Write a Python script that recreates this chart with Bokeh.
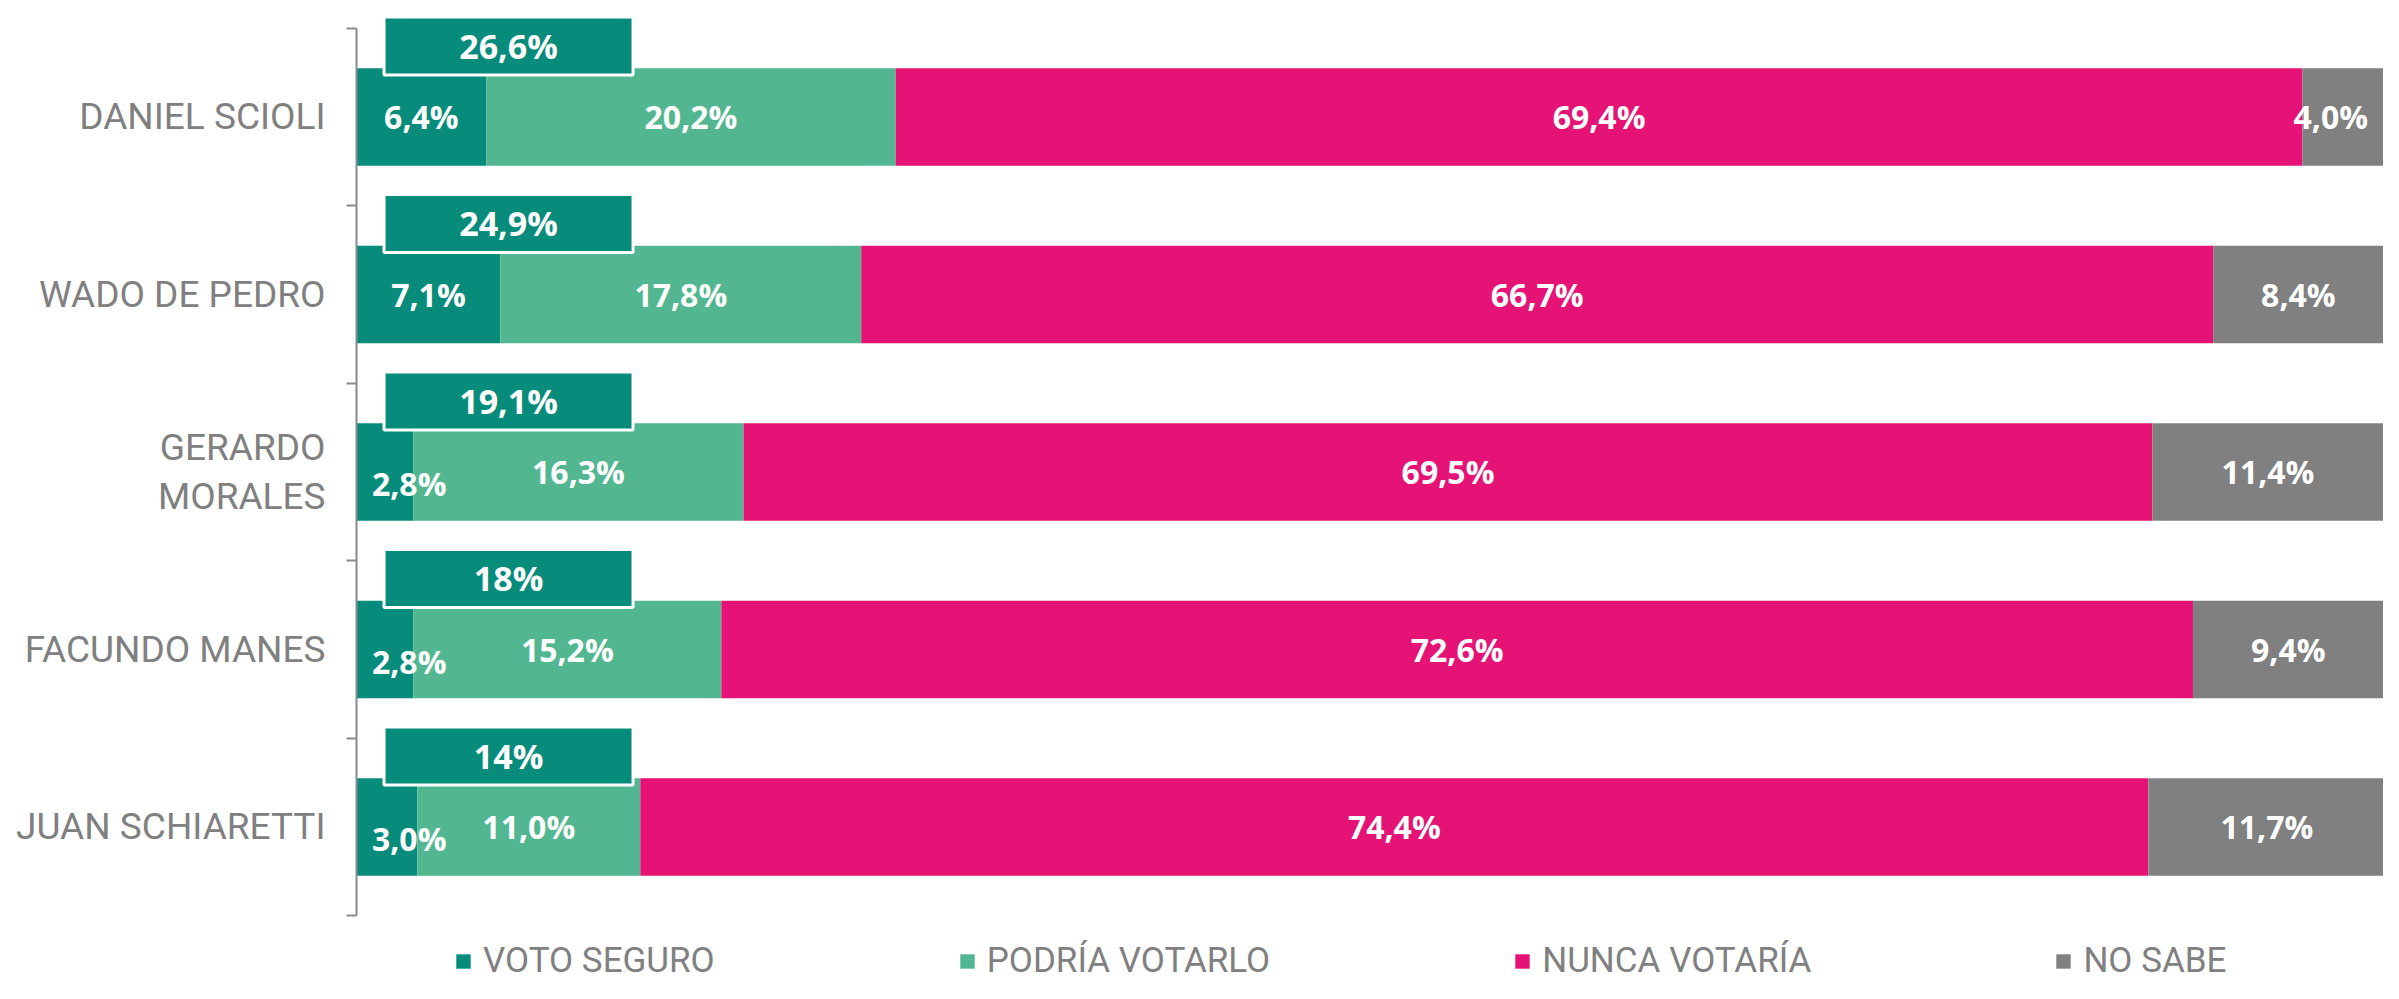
from bokeh.plotting import figure
from bokeh.models import Range1d, FixedTicker, Legend, LegendItem, ColumnDataSource
from bokeh.core.properties import value
from bokeh.embed import file_html
from bokeh.resources import INLINE

# ---------------- data ----------------
candidates = ["DANIEL SCIOLI", "WADO DE PEDRO", "GERARDO\nMORALES", "FACUNDO MANES", "JUAN SCHIARETTI"]
series_names = ["VOTO SEGURO", "PODRÍA VOTARLO", "NUNCA VOTARÍA", "NO SABE"]
voto_seguro = [6.4, 7.1, 2.8, 2.8, 3.0]
podria_votarlo = [20.2, 17.8, 16.3, 15.2, 11.0]
nunca_votaria = [69.4, 66.7, 69.5, 72.6, 74.4]
no_sabe = [4.0, 8.4, 11.4, 9.4, 11.7]
total_labels = ["26,6%", "24,9%", "19,1%", "18%", "14%"]

# ---------------- style ----------------
colors = ["#078C7C", "#52B790", "#E51375", "#808080"]
LABEL_GRAY = "#808080"
AXIS_GRAY = "#8a8a8a"
BAR_H = 0.55
BOX_X = 7.5
BOX_DY = 0.40


def fmt(v):
    return f"{v:.1f}".replace(".", ",") + "%"


n = len(candidates)
ys = [n - i - 0.5 for i in range(n)]

p = figure(width=2383, height=983, output_backend="svg", toolbar_location=None,
           x_range=Range1d(0, 100), y_range=Range1d(-0.382, 5.1),
           x_axis_location=None,
           min_border_left=356, min_border_right=0, min_border_top=10, min_border_bottom=0)
p.outline_line_color = None
p.grid.visible = False
p.background_fill_color = "white"

series = [voto_seguro, podria_votarlo, nunca_votaria, no_sabe]
left = [0.0] * n
renderers = []
lx, ly, lt, ldy = [], [], [], []
for k, vals in enumerate(series):
    right = [l + v for l, v in zip(left, vals)]
    r = p.hbar(y=ys, left=left, right=right, height=BAR_H,
               fill_color=colors[k], line_color=None)
    renderers.append(r)
    for i, v in enumerate(vals):
        c = (left[i] + right[i]) / 2
        c = min(max(c, 2.6), 97.4)
        lx.append(c)
        ly.append(ys[i])
        lt.append(fmt(v))
        ldy.append(12 if (k == 0 and v < 5) else 0)
    left = right

lab_src = ColumnDataSource(dict(x=lx, y=ly, t=lt, dy=ldy))
p.text(x="x", y="y", text="t", y_offset="dy", source=lab_src,
       text_align="center", text_baseline="middle", text_color="white",
       text_font=value("Open Sans"), text_font_style="bold", text_font_size="32px")

# total boxes
box_y = [y + BOX_DY for y in ys]
p.rect(x=[BOX_X] * n, y=box_y, width=249, height=58,
       width_units="screen", height_units="screen",
       fill_color=colors[0], line_color="white", line_width=3)
p.text(x=[BOX_X] * n, y=box_y, text=total_labels,
       text_align="center", text_baseline="middle", text_color="white",
       text_font=value("Open Sans"), text_font_style="bold", text_font_size="34px")

# axis
ax = p.yaxis[0]
ax.ticker = FixedTicker(ticks=ys, minor_ticks=list(range(n + 1)))
overrides = {}
for y, name in zip(ys, candidates):
    overrides[y] = name
    overrides[str(y)] = name
ax.major_label_overrides = overrides
ax.bounds = (0, n)
ax.axis_line_color = AXIS_GRAY
ax.axis_line_width = 2
ax.major_tick_line_color = None
ax.major_tick_out = 0
ax.major_tick_in = 0
ax.minor_tick_line_color = AXIS_GRAY
ax.minor_tick_line_width = 2
ax.minor_tick_out = 10
ax.minor_tick_in = 0
ax.major_label_text_font = "Roboto"
ax.major_label_text_font_size = "37px"
ax.major_label_text_line_height = 1.15
ax.major_label_text_color = LABEL_GRAY
ax.major_label_standoff = 21

legend = Legend(items=[LegendItem(label=nm, renderers=[r]) for nm, r in zip(series_names, renderers)],
                orientation="horizontal", location=(98, 2),
                spacing=243, label_standoff=11, padding=0, margin=0,
                glyph_width=18, glyph_height=18, label_height=30,
                border_line_color=None, background_fill_alpha=0,
                label_text_font="Roboto", label_text_font_size="35px",
                label_text_color=LABEL_GRAY)
p.add_layout(legend)

open("out.html", "w").write(file_html(p, INLINE))
